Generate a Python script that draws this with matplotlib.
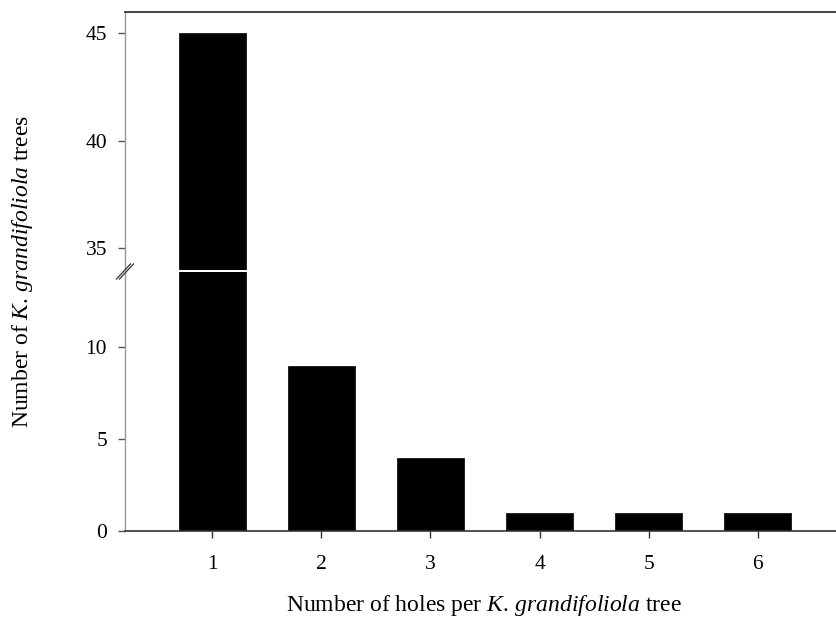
import matplotlib
matplotlib.use("Agg")
import matplotlib.pyplot as plt

holes = [1, 2, 3, 4, 5, 6]
trees = [45, 9, 4, 1, 1, 1]
tick_labels = ["1", "2", "3", "4", "5", "6"]

plt.rcParams['font.family'] = ['Liberation Serif', 'DejaVu Serif']
plt.rcParams['mathtext.fontset'] = 'custom'
plt.rcParams['mathtext.rm'] = 'Liberation Serif'
plt.rcParams['mathtext.it'] = 'Liberation Serif:italic'

W, H = 836, 622
fig = plt.figure(figsize=(W / 100, H / 100), dpi=100)

left = 125 / W
right = 845 / W
top_y = 12
brk = 271
bot_y = 531
gap = 1.0

ax_top = fig.add_axes([left, 1 - (brk - gap) / H, right - left, (brk - gap - top_y) / H])
ax_bot = fig.add_axes([left, 1 - bot_y / H, right - left, (bot_y - brk - gap) / H])

for ax in (ax_top, ax_bot):
    ax.bar(holes, trees, width=0.61, color='black', edgecolor='black', linewidth=0.5)
    ax.spines['right'].set_visible(False)
    ax.spines['left'].set_color('#999999')
    ax.spines['left'].set_linewidth(1.0)
    ax.tick_params(axis='y', direction='out', length=5, width=1, color='#555555',
                   labelsize=15.5, pad=8)

ax_top.set_ylim(34, 46)
ax_top.set_yticks([35, 40, 45])
ax_top.spines['bottom'].set_visible(False)
ax_top.spines['top'].set_color('#222222')
ax_top.spines['top'].set_linewidth(1.2)
ax_top.tick_params(axis='x', which='both', bottom=False, labelbottom=False)
ax_top.set_xlim(0.2, 6.8)

ax_bot.set_ylim(0, 14.1)
ax_bot.set_yticks([0, 5, 10])
ax_bot.spines['top'].set_visible(False)
ax_bot.spines['bottom'].set_color('#333333')
ax_bot.spines['bottom'].set_linewidth(1.2)
ax_bot.set_xticks(holes)
ax_bot.set_xticklabels(tick_labels)
ax_bot.set_xlim(0.2, 6.8)
ax_bot.tick_params(axis='x', direction='out', length=5, width=1, color='#333333',
                   labelsize=15.5, pad=12)

# break marks on left axis
for dx in (-1.5, 1.5):
    fig.add_artist(plt.Line2D([(118 + dx) / W, (132 + dx) / W],
                              [1 - 279 / H, 1 - 264 / H],
                              color='#444444', linewidth=1.0, transform=fig.transFigure))

fig.text(23 / W, 1 - 271 / H, r'Number of $\mathit{K.\,grandifoliola}$ trees',
         rotation=90, ha='center', va='center', fontsize=17)
fig.text(484 / W, 1 - 606 / H, r'Number of holes per $\mathit{K.\,grandifoliola}$ tree',
         ha='center', va='center', fontsize=17)

fig.savefig('out.png', dpi=100)
